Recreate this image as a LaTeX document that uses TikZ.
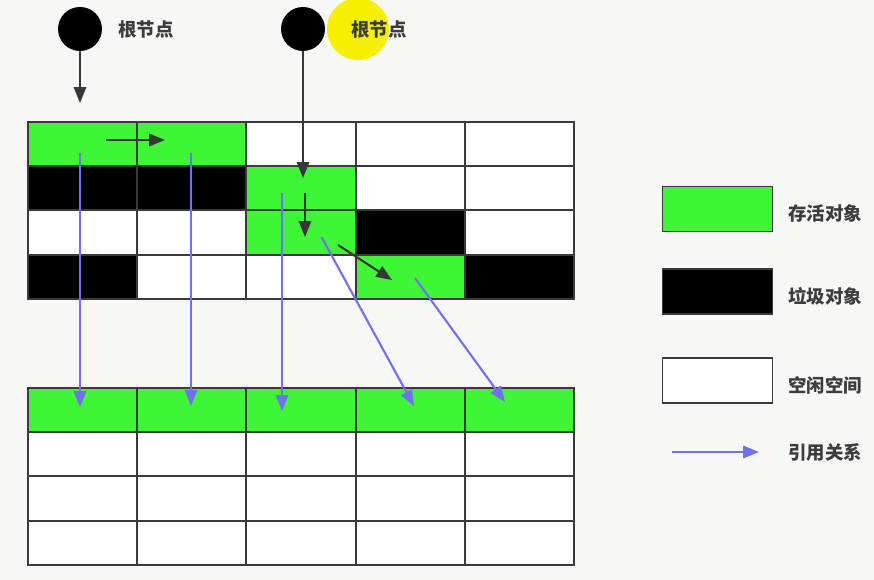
\documentclass[tikz,border=0pt]{standalone}
\usepackage{fontspec}
\newfontfamily\zh{Noto Sans CJK SC}
\usetikzlibrary{arrows.meta}
\definecolor{livegreen}{RGB}{64,245,56}
\definecolor{gridline}{RGB}{58,58,58}
\definecolor{refblue}{RGB}{112,112,240}
\definecolor{hopgray}{RGB}{55,55,55}
\definecolor{labelgray}{RGB}{60,60,60}
\definecolor{paper}{RGB}{247,247,245}
\definecolor{spot}{RGB}{245,240,0}
\tikzset{
  cell/.style={draw=gridline,line width=1.1pt,minimum width=2.184cm,minimum height=0.885cm,inner sep=0pt,anchor=north west},
  legendbox/.style={draw=gridline,line width=1.1pt,minimum width=2.2cm,minimum height=0.9cm,inner sep=0pt},
  refarrow/.style={draw=refblue,line width=1.2pt,-{Triangle[length=9pt,width=7pt]}},
  hop/.style={draw=hopgray,line width=1.2pt,-{Triangle[length=9pt,width=7pt]}},
  root/.style={circle,fill=black,minimum size=0.88cm,inner sep=0pt},
  tag/.style={font=\zh\bfseries\fontsize{10.5}{12}\selectfont,text=labelgray,inner sep=0pt},
}
\begin{document}
\begin{tikzpicture}[x=0.02cm,y=-0.02cm]
 \fill[paper](0,0) rectangle (874,580);
 \useasboundingbox (0,0) rectangle (874,580);
 % heap before collection
 \foreach \r/\row in {0/{livegreen,livegreen,white,white,white},
                      1/{black,black,livegreen,white,white},
                      2/{white,white,livegreen,black,white},
                      3/{black,white,white,livegreen,black}}
   \foreach \c [count=\i from 0] in \row
     \node[cell,fill=\c] (old-\r-\i) at ({27+109.2*\i},{121+44.25*\r}) {};
 % heap after collection
 \foreach \r/\row in {0/{livegreen,livegreen,livegreen,livegreen,livegreen},
                      1/{white,white,white,white,white},
                      2/{white,white,white,white,white},
                      3/{white,white,white,white,white}}
   \foreach \c [count=\i from 0] in \row
     \node[cell,fill=\c] (new-\r-\i) at ({27+109.2*\i},{387+44.25*\r}) {};
 % roots
 \node[root] (root1) at (80,29) {};
 \node[tag] (root1-lbl) at (146,30) {根节点};
 \node[circle,fill=spot,minimum size=1.24cm,inner sep=0pt] (spot) at (358,29) {};
 \node[root] (root2) at (303,29) {};
 \node[tag] (root2-lbl) at (379,30) {根节点};
 % references between objects
 \coordinate (root1-tip) at (80,103);
 \coordinate (root2-tip) at (303,178);
 \coordinate (a0) at (106,140);  \coordinate (a1) at (165,140);
 \coordinate (b0) at (305,193);  \coordinate (b1) at (305,237);
 \coordinate (c0) at (338,245);  \coordinate (c1) at (392,280);
 \draw[hop] (root1) -- (root1-tip);
 \draw[hop] (root2) -- (root2-tip);
 \draw[hop] (a0) -- (a1);
 \draw[hop] (b0) -- (b1);
 \draw[hop] (c0) -- (c1);
 % copying live objects
 \coordinate (m1s) at (80,153);     \coordinate (m1e) at (80,407);
 \coordinate (m2s) at (191,153);    \coordinate (m2e) at (191,406);
 \coordinate (m3s) at (282,193);    \coordinate (m3e) at (282,411);
 \coordinate (m4s) at (321.5,237);  \coordinate (m4e) at (414,406);
 \coordinate (m5s) at (415,278);    \coordinate (m5e) at (505,402);
 \draw[refarrow] (m1s) -- (m1e);
 \draw[refarrow] (m2s) -- (m2e);
 \draw[refarrow] (m3s) -- (m3e);
 \draw[refarrow] (m4s) -- (m4e);
 \draw[refarrow] (m5s) -- (m5e);
 % legend
 \node[legendbox,fill=livegreen] (lg-live) at (717.5,209) {};
 \node[legendbox,fill=black] (lg-dead) at (717.5,291.5) {};
 \node[legendbox,fill=white] (lg-free) at (717.5,380.5) {};
 \node[tag,anchor=west] (lg-live-lbl) at (788,213) {存活对象};
 \node[tag,anchor=west] (lg-dead-lbl) at (788,296) {垃圾对象};
 \node[tag,anchor=west] (lg-free-lbl) at (788,385) {空闲空间};
 \coordinate (lg-ref0) at (672,452);
 \coordinate (lg-ref1) at (759,452);
 \draw[refarrow] (lg-ref0) -- (lg-ref1);
 \node[tag,anchor=west] (lg-ref-lbl) at (788,452) {引用关系};
\end{tikzpicture}
\end{document}
